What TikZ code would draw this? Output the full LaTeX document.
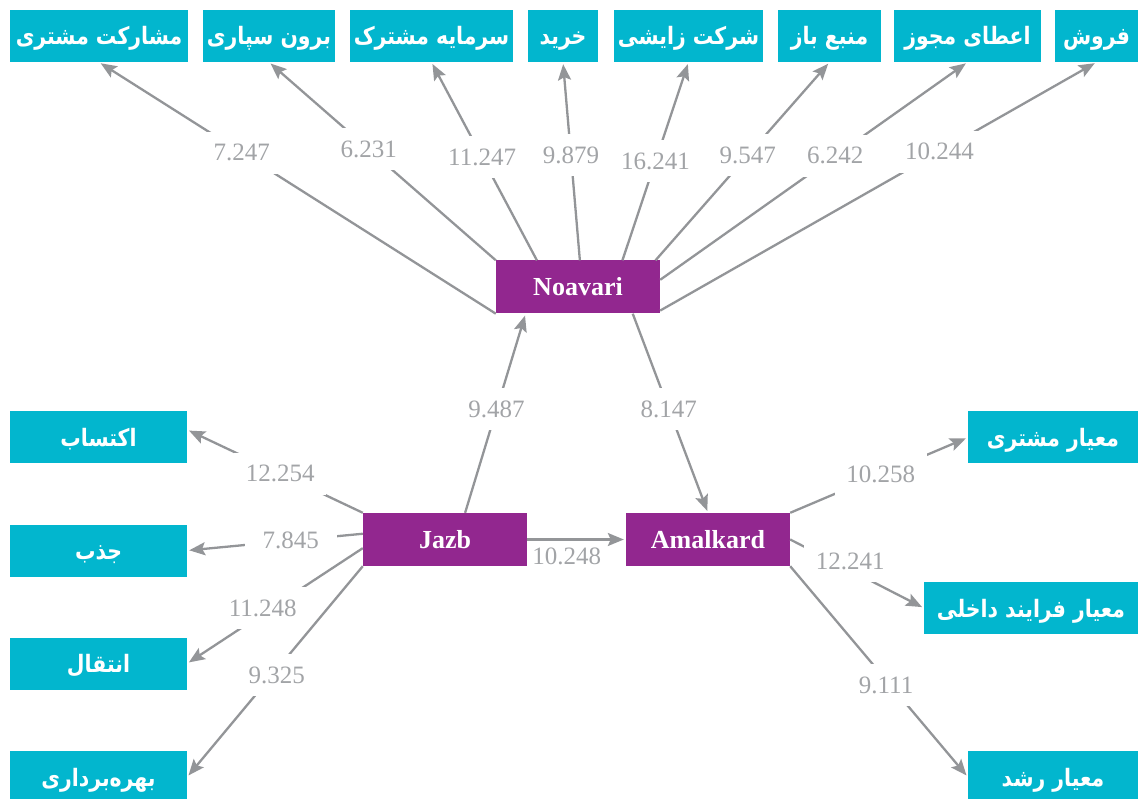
\documentclass[tikz,border=0pt]{standalone}
\usepackage{fontspec}
\setmainfont{Liberation Serif}
\newfontfamily\farsi[Script=Arabic,FakeStretch=0.85]{DejaVu Sans}
\TeXXeTstate=1
\usetikzlibrary{arrows.meta,positioning}
\definecolor{catcyan}{HTML}{02B6CE}
\definecolor{hubpurple}{HTML}{92278F}
\definecolor{linkgray}{HTML}{939598}
\definecolor{wtgray}{HTML}{A2A4A7}
\newcommand{\fa}[1]{\beginR #1\endR}

\begin{document}
\begin{tikzpicture}[x=1pt,y=-1pt,
  cat/.style={fill=catcyan,text=white,minimum height=52pt,inner sep=0pt,text height=20pt,text depth=2pt,font=\farsi\bfseries\fontsize{24}{28}\selectfont},
  hub/.style={fill=hubpurple,text=white,minimum width=164pt,minimum height=53pt,inner sep=0pt,font=\bfseries\fontsize{26}{30}\selectfont},
  link/.style={draw=linkgray,line width=2.3pt,shorten >=2pt,-{Stealth[length=16pt,width=13pt,inset=3pt]}},
  wt/.style={text=wtgray,inner sep=1pt,font=\fontsize{25}{29}\selectfont},
  gap/.style={wt,fill=white,minimum width=92pt,minimum height=42pt}]
\useasboundingbox (0,0) rectangle (1141,799);
% top row
\node[cat,minimum width=178pt] (t1) at (99,36) {\fa{مشارکت مشتری}};
\node[cat,minimum width=132pt] (t2) at (269,36) {\fa{برون سپاری}};
\node[cat,minimum width=163pt] (t3) at (431.5,36) {\fa{سرمایه مشترک}};
\node[cat,minimum width=70pt] (t4) at (563,36) {\fa{خرید}};
\node[cat,minimum width=149pt] (t5) at (688.5,36) {\fa{شرکت زایشی}};
\node[cat,minimum width=103pt] (t6) at (829.5,36) {\fa{منبع باز}};
\node[cat,minimum width=147pt] (t7) at (967.5,36) {\fa{اعطای مجوز}};
\node[cat,minimum width=83pt] (t8) at (1096.5,36) {\fa{فروش}};
% hubs
\node[hub] (noa) at (578,287) {Noavari};
\node[hub] (jazb) at (445,539.5) {Jazb};
\node[hub] (amal) at (708,539.5) {Amalkard};
% left and right
\node[cat,minimum width=177pt] (a1) at (98.5,437.5) {\fa{اکتساب}};
\node[cat,minimum width=177pt] (a2) at (98.5,550.5) {\fa{جذب}};
\node[cat,minimum width=177pt] (a3) at (98.5,663.5) {\fa{انتقال}};
\node[cat,minimum width=177pt] (a4) at (98.5,777) {\fa{بهره^^^^200cبرداری}};
\node[cat,minimum width=170pt] (r1) at (1053,437.5) {\fa{معیار مشتری}};
\node[cat,minimum width=214pt] (r2) at (1031,608) {\fa{معیار فرایند داخلی}};
\node[cat,minimum width=170pt] (r3) at (1053,777) {\fa{معیار رشد}};
% Noavari -> top row
\draw[link] (noa.south west) -- node[gap,pos=0.64] (w1) {7.247} (t1.south);
\draw[link] (noa.north west) -- node[gap,pos=0.56] (w2) {6.231} (t2.south);
\draw[link] (noa.147) -- node[gap,pos=0.52] (w3) {11.247} (t3.south);
\draw[link] (noa.86) -- node[gap,pos=0.53] (w4) {9.879} (t4.south);
\draw[link] (noa.31) -- node[gap,pos=0.5] (w5) {16.241} (t5.south);
\draw[link] (noa.19) -- node[gap,pos=0.53] (w6) {9.547} (t6.south);
\draw[link] (noa.5) -- node[gap,pos=0.57] (w7) {6.242} (t7.south);
\draw[link] (noa.-16) -- node[gap,pos=0.64] (w8) {10.244} (t8.south);
% hubs
\draw[link] (jazb.53) -- node[gap,pos=0.52] (w9) {9.487} (noa.207);
\draw[link] (noa.-26) -- node[gap,pos=0.48] (w10) {8.147} (amal.north);
\draw[link] (jazb.east) -- node[wt,below,pos=0.4,yshift=-6pt] (w11) {10.248} (amal.west);
% Jazb -> left
\draw[link] (jazb.north west) -- node[gap,pos=0.47] (w12) {12.254} (a1.5);
\draw[link] (jazb.176) -- node[gap,pos=0.41] (w13) {7.845} (a2.east);
\draw[link] (jazb.186) -- node[gap,pos=0.57,yshift=6pt] (w14) {11.248} (a3.east);
\draw[link] (jazb.south west) -- node[gap,pos=0.49,yshift=-6pt] (w15) {9.325} (a4.east);
% Amalkard -> right
\draw[link] (amal.north east) -- node[gap,pos=0.51] (w16) {10.258} (r1.west);
\draw[link] (amal.east) -- node[gap,pos=0.45,yshift=9pt] (w17) {12.241} (r2.west);
\draw[link] (amal.south east) -- node[gap,pos=0.54,yshift=-5pt] (w18) {9.111} (r3.west);
\end{tikzpicture}
\end{document}
